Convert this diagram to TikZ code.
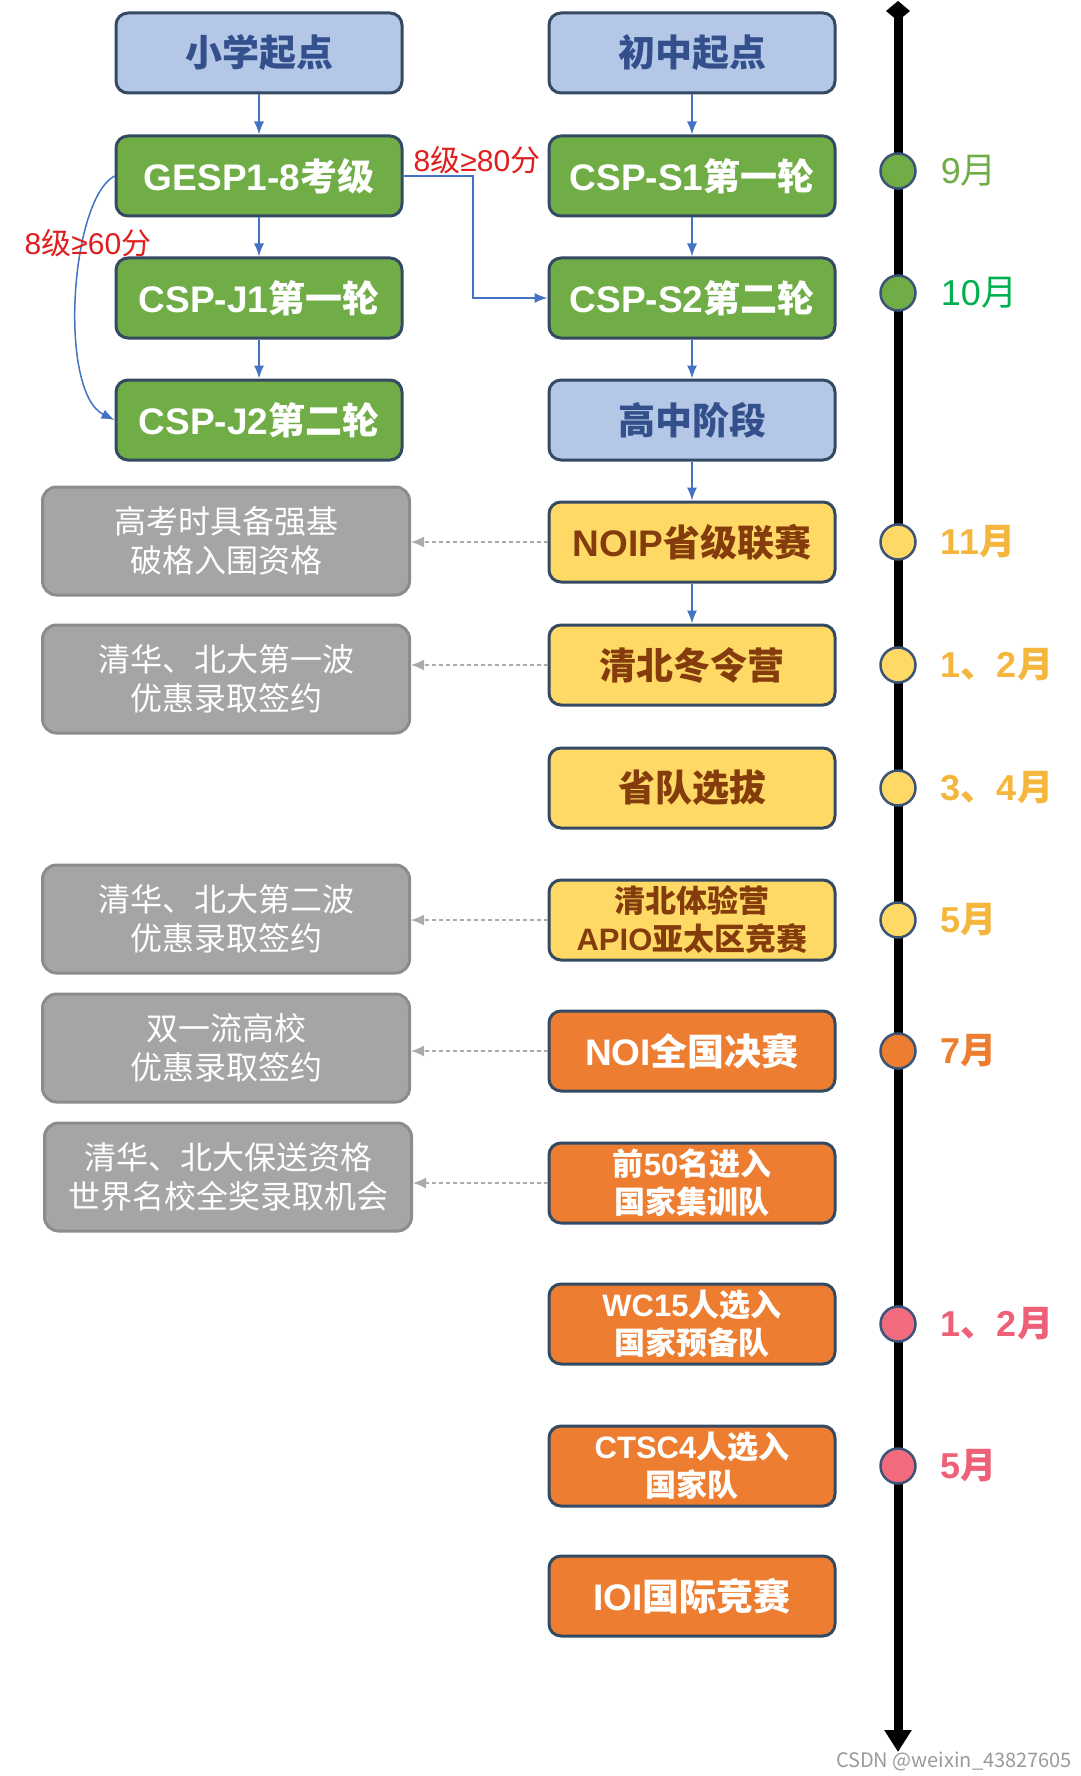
\documentclass[tikz,border=0pt]{standalone}
\usepackage{fontspec}
\setmainfont{Noto Sans CJK SC}
\newfontfamily\lsf{Liberation Sans}
\usetikzlibrary{arrows.meta}
\definecolor{bluefill}{HTML}{B4C7E7}
\definecolor{bluetext}{HTML}{34508C}
\definecolor{greenfill}{HTML}{70AD47}
\definecolor{yellowfill}{HTML}{FFD966}
\definecolor{browntext}{HTML}{843C0C}
\definecolor{orangefill}{HTML}{ED7D31}
\definecolor{grayfill}{HTML}{A5A5A5}
\definecolor{grayline}{HTML}{8C8C8C}
\definecolor{boxline}{HTML}{344A63}
\definecolor{flowblue}{HTML}{4472C4}
\definecolor{sidegray}{HTML}{ABABAB}
\definecolor{dotline}{HTML}{3C5478}
\definecolor{condred}{HTML}{E01E1E}
\definecolor{mgreen}{HTML}{70AD47}
\definecolor{mgreenb}{HTML}{00B050}
\definecolor{mgold}{HTML}{F4B63C}
\definecolor{morange}{HTML}{ED7D31}
\definecolor{mpink}{HTML}{EE5F78}
\definecolor{pinkfill}{HTML}{F26B7E}
\definecolor{wmgray}{HTML}{9A9A9A}
\begin{document}
\begin{tikzpicture}[x=1pt,y=-1pt,
	box/.style={draw=boxline,line width=3pt,rounded corners=12pt,minimum width=286pt,minimum height=80pt,inner sep=0pt,align=center,font=\fontsize{37}{44}\selectfont\bfseries},
	bluebox/.style={box,fill=bluefill,text=bluetext},
	greenbox/.style={box,fill=greenfill,text=white},
	yellowbox/.style={box,fill=yellowfill,text=browntext},
	orangebox/.style={box,fill=orangefill,text=white},
	small/.style={font=\fontsize{31}{38}\selectfont\bfseries},
	graybox/.style={draw=grayline,line width=3pt,rounded corners=14pt,fill=grayfill,text=white,minimum width=367pt,minimum height=108pt,inner sep=0pt,align=center,font=\fontsize{32}{39}\selectfont},
	flow/.style={-{Latex[length=13pt,width=10pt]},draw=flowblue,line width=1.5pt},
	side/.style={-{Latex[length=13pt,width=11pt]},draw=sidegray,line width=1.3pt,dash pattern=on 4pt off 3pt},
	dot/.style={circle,draw=dotline,line width=2.5pt,minimum size=35pt,inner sep=0pt},
	mtext/.style={inner sep=0pt,xshift=24pt,font=\fontsize{36}{40}\selectfont\bfseries},
	cond/.style={text=condred,inner sep=0pt,font=\fontsize{30}{34}\selectfont}]
	\useasboundingbox (0,0) rectangle (1080,1776);

	% timeline
	\coordinate (ttop) at (898,1);
	\coordinate (tbot) at (898,1752);
	\draw[line width=9pt,{Diamond[length=20pt,width=24pt]}-{Triangle[length=22pt,width=26pt]}] (ttop) -- (tbot);

	\draw (259,53) node[bluebox] (xx){小学起点};
	\draw (259,176) node[greenbox] (gesp){{\lsf GESP1-8}考级};
	\draw (259,298) node[greenbox] (j1){{\lsf CSP-J1}第一轮};
	\draw (259,420) node[greenbox] (j2){{\lsf CSP-J2}第二轮};

	\draw (692,53) node[bluebox] (cz){初中起点};
	\draw (692,176) node[greenbox] (s1){{\lsf CSP-S1}第一轮};
	\draw (692,298) node[greenbox] (s2){{\lsf CSP-S2}第二轮};
	\draw (692,420) node[bluebox] (gz){高中阶段};
	\draw (692,542) node[yellowbox] (noip){{\lsf NOIP}省级联赛};
	\draw (692,665) node[yellowbox] (dly){清北冬令营};
	\draw (692,788) node[yellowbox] (sd){省队选拔};
	\draw (692,920) node[yellowbox,small] (tyy){清北体验营\\{\lsf APIO}亚太区竞赛};
	\draw (692,1051) node[orangebox] (noi){{\lsf NOI}全国决赛};
	\draw (692,1183) node[orangebox,small] (q50){前{\lsf 50}名进入\\国家集训队};
	\draw (692,1324) node[orangebox,small] (wc){{\lsf WC15}人选入\\国家预备队};
	\draw (692,1466) node[orangebox,small] (ctsc){{\lsf CTSC4}人选入\\国家队};
	\draw (692,1596) node[orangebox] (ioi){{\lsf IOI}国际竞赛};

	\draw (226,541) node[graybox] (g1){高考时具备强基\\破格入围资格};
	\draw (226,679) node[graybox] (g2){清华、北大第一波\\优惠录取签约};
	\draw (226,919) node[graybox] (g3){清华、北大第二波\\优惠录取签约};
	\draw (226,1048) node[graybox] (g4){双一流高校\\优惠录取签约};
	\draw (228,1177) node[graybox] (g5){清华、北大保送资格\\世界名校全奖录取机会};

	\draw[flow] (xx) -- (gesp);
	\draw[flow] (gesp) -- (j1);
	\draw[flow] (j1) -- (j2);
	\draw[flow] (cz) -- (s1);
	\draw[flow] (s1) -- (s2);
	\draw[flow] (s2) -- (gz);
	\draw[flow] (gz) -- (noip);
	\draw[flow] (noip) -- (dly);

	\coordinate (turn) at (473,0);
	\draw[flow] (gesp.east) -| (turn |- s2.west) -- (s2.west);
	\draw[flow] (gesp.west) .. controls (70,200) and (58,392) .. (j2.west);
	\draw (477,160) node[cond] (c80){{\lsf 8}级{\lsf ≥80}分};
	\draw (88,243) node[cond] (c60){{\lsf 8}级{\lsf ≥60}分};

	\draw[side] (noip.west) -- (noip.west -| g1.east);
	\draw[side] (dly.west) -- (dly.west -| g2.east);
	\draw[side] (tyy.west) -- (tyy.west -| g3.east);
	\draw[side] (noi.west) -- (noi.west -| g4.east);
	\draw[side] (q50.west) -- (q50.west -| g5.east);

	% months
	\draw (898,171) node[dot,fill=greenfill,label={[mtext,font=\fontsize{36}{40}\selectfont,text=mgreen]right:{\lsf 9}月}] (t9){};
	\draw (898,293) node[dot,fill=greenfill,label={[mtext,font=\fontsize{36}{40}\selectfont,text=mgreenb]right:{\lsf 10}月}] (t10){};
	\draw (898,542) node[dot,fill=yellowfill,label={[mtext,text=mgold]right:{\lsf 11}月}] (t11){};
	\draw (898,665) node[dot,fill=yellowfill,label={[mtext,text=mgold]right:{\lsf 1}、{\lsf 2}月}] (t12){};
	\draw (898,788) node[dot,fill=yellowfill,label={[mtext,text=mgold]right:{\lsf 3}、{\lsf 4}月}] (t34){};
	\draw (898,920) node[dot,fill=yellowfill,label={[mtext,text=mgold]right:{\lsf 5}月}] (t5){};
	\draw (898,1051) node[dot,fill=orangefill,label={[mtext,text=morange]right:{\lsf 7}月}] (t7){};
	\draw (898,1324) node[dot,fill=pinkfill,label={[mtext,text=mpink]right:{\lsf 1}、{\lsf 2}月}] (u12){};
	\draw (898,1466) node[dot,fill=pinkfill,label={[mtext,text=mpink]right:{\lsf 5}月}] (u5){};

	\draw (954,1761) node[font=\fontsize{20}{22}\selectfont,text=wmgray] (wm){CSDN @weixin\_43827605};
\end{tikzpicture}
\end{document}
